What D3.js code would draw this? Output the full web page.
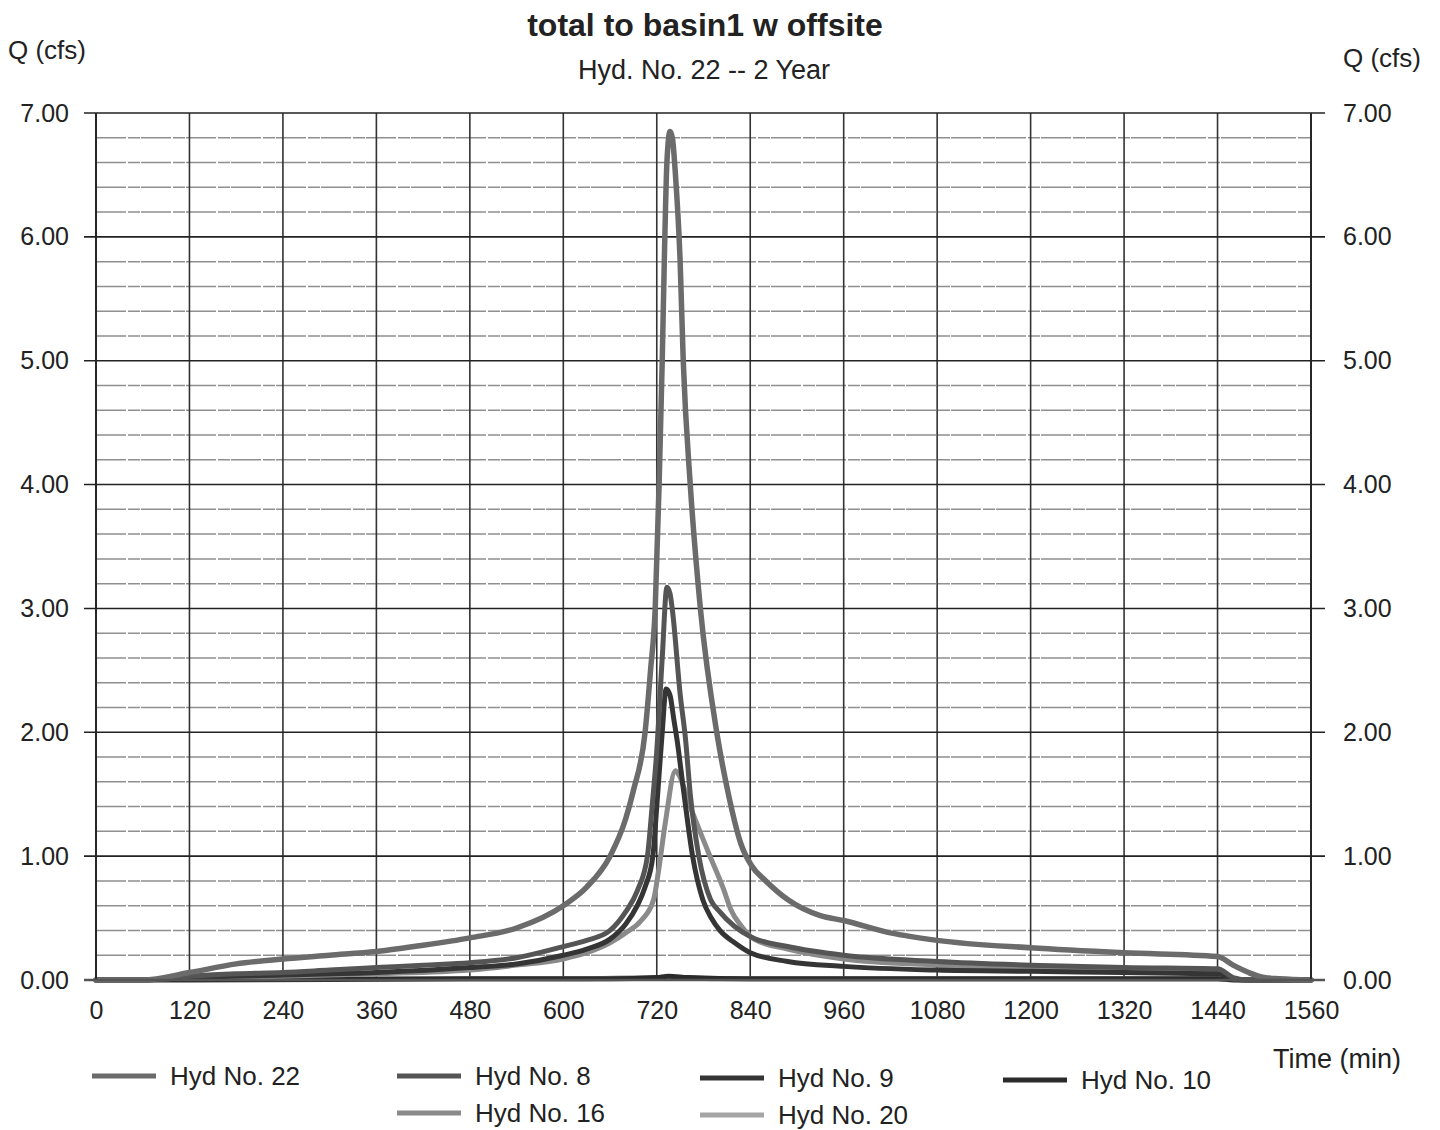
<!DOCTYPE html>
<html>
<head>
<meta charset="utf-8">
<script src="https://cdn.jsdelivr.net/npm/d3@7"></script>
<style>
  body { margin: 0; background: #fff; }
  svg text { font-family: "Liberation Sans", Arial, sans-serif; fill: #222; }
</style>
</head>
<body>
<svg id="chart" width="1440" height="1130"></svg>
<script>
// hydrograph readings (time in min, flow in cfs)
var hyd22Time = [0, 60, 120, 180, 240, 300, 360, 420, 480, 540, 600, 630, 660, 680, 690, 705, 712, 718, 723, 727, 730, 733, 737, 740, 744, 750, 754, 763, 776, 797, 812, 828, 842, 860, 888, 930, 960, 1020, 1080, 1200, 1320, 1440, 1460, 1480, 1500, 1520, 1560];
var hyd22Flow = [0, 0, 0.06, 0.13, 0.17, 0.2, 0.23, 0.28, 0.34, 0.42, 0.6, 0.75, 1.0, 1.3, 1.53, 2.0, 2.5, 3.0, 4.0, 5.0, 5.9, 6.6, 6.85, 6.8, 6.5, 5.8, 5.0, 4.0, 3.0, 2.0, 1.5, 1.1, 0.92, 0.8, 0.65, 0.52, 0.48, 0.38, 0.32, 0.26, 0.22, 0.19, 0.12, 0.06, 0.02, 0.01, 0];

var hyd8Time = [0, 60, 120, 180, 240, 300, 360, 420, 480, 540, 600, 630, 660, 680, 695, 708, 714, 720, 727, 733, 737, 740, 750, 757, 763, 774, 789, 801, 840, 888, 960, 1080, 1200, 1320, 1440, 1460, 1480, 1560];
var hyd8Flow = [0, 0, 0.03, 0.05, 0.06, 0.08, 0.1, 0.12, 0.14, 0.18, 0.27, 0.32, 0.4, 0.55, 0.72, 1.0, 1.4, 1.85, 2.6, 3.17, 3.12, 2.99, 2.31, 1.94, 1.5, 1.0, 0.65, 0.55, 0.35, 0.27, 0.2, 0.15, 0.12, 0.1, 0.09, 0.02, 0, 0];

var hyd9Time = [0, 60, 120, 240, 360, 480, 540, 600, 630, 660, 680, 695, 705, 715, 720, 727, 732, 737, 742, 746, 755, 766, 779, 790, 801, 820, 840, 888, 960, 1080, 1200, 1320, 1440, 1460, 1480, 1560];
var hyd9Flow = [0, 0, 0.02, 0.04, 0.06, 0.1, 0.13, 0.2, 0.25, 0.33, 0.45, 0.6, 0.75, 1.0, 1.4, 2.0, 2.35, 2.3, 2.1, 1.94, 1.5, 1.0, 0.65, 0.5, 0.4, 0.3, 0.22, 0.15, 0.11, 0.08, 0.07, 0.06, 0.05, 0.01, 0, 0];

var hyd10Time = [0, 120, 480, 660, 720, 735, 760, 840, 1440, 1460, 1560];
var hyd10Flow = [0, 0, 0.01, 0.01, 0.02, 0.03, 0.02, 0.01, 0.01, 0, 0];

var hyd16Time = [0, 60, 120, 240, 360, 480, 540, 600, 630, 660, 680, 700, 716, 722, 731, 744, 748, 763, 785, 806, 815, 828, 845, 888, 960, 1080, 1200, 1320, 1440, 1460, 1480, 1560];
var hyd16Flow = [0, 0, 0.02, 0.03, 0.05, 0.08, 0.12, 0.17, 0.22, 0.3, 0.38, 0.48, 0.65, 0.87, 1.27, 1.69, 1.66, 1.4, 1.05, 0.73, 0.57, 0.44, 0.33, 0.25, 0.17, 0.12, 0.09, 0.08, 0.07, 0.01, 0, 0];

var hyd20Time = [0, 240, 600, 720, 750, 800, 1440, 1470, 1560];
var hyd20Flow = [0, 0.01, 0.01, 0.02, 0.02, 0.01, 0.01, 0, 0];

var xTicks = [0, 120, 240, 360, 480, 600, 720, 840, 960, 1080, 1200, 1320, 1440, 1560];
var yTicks = [0, 1, 2, 3, 4, 5, 6, 7];
var legendNames = ["Hyd No. 22", "Hyd No. 8", "Hyd No. 9", "Hyd No. 10", "Hyd No. 16", "Hyd No. 20"];

var svg = d3.select("#chart");
var plotLeft = 96, plotRight = 1311, plotTop = 113, plotBottom = 980;

var x = d3.scaleLinear().domain([0, 1560]).range([plotLeft, plotRight]);
var y = d3.scaleLinear().domain([0, 7]).range([plotBottom, plotTop]);

// minor grid every 0.2
var minor = d3.range(0, 7.01, 0.2).filter(function(v){ return Math.abs(v - Math.round(v)) > 0.01; });
svg.append("g")
    .selectAll("line")
    .data(minor)
    .join("line")
        .attr("x1", plotLeft).attr("x2", plotRight)
        .attr("y1", function(d){ return y(d); })
        .attr("y2", function(d){ return y(d); })
        .style("stroke", "#8f8f8f")
        .style("stroke-width", 1.5)
        .style("stroke-dasharray", "30 2 12 1");

// vertical grid
svg.append("g")
    .selectAll("line")
    .data(xTicks)
    .join("line")
        .attr("x1", function(d){ return x(d); })
        .attr("x2", function(d){ return x(d); })
        .attr("y1", plotTop).attr("y2", plotBottom)
        .style("stroke", "#333")
        .style("stroke-width", 1.6);

// major horizontal lines, ticking out both sides
svg.append("g")
    .selectAll("line")
    .data(yTicks)
    .join("line")
        .attr("x1", plotLeft - 12).attr("x2", plotRight + 14)
        .attr("y1", function(d){ return y(d); })
        .attr("y2", function(d){ return y(d); })
        .style("stroke", "#222")
        .style("stroke-width", 1.6);

// axis labels with d3 axes, lines hidden
var leftAxis = svg.append("g")
    .attr("transform", "translate(" + (plotLeft - 24) + ",0)")
    .call(d3.axisLeft(y).tickValues(yTicks).tickFormat(d3.format(".2f")).tickSize(0));
var rightAxis = svg.append("g")
    .attr("transform", "translate(" + (plotRight + 29) + ",0)")
    .call(d3.axisRight(y).tickValues(yTicks).tickFormat(d3.format(".2f")).tickSize(0));
var bottomAxis = svg.append("g")
    .attr("transform", "translate(0," + (plotBottom + 18) + ")")
    .call(d3.axisBottom(x).tickValues(xTicks).tickFormat(d3.format("d")).tickSize(0));

[leftAxis, rightAxis, bottomAxis].forEach(function(a){
    a.select(".domain").remove();
    a.selectAll("text")
        .style("font-family", "Liberation Sans, Arial, sans-serif")
        .style("font-size", "25px")
        .style("fill", "#222");
});

// series
var series = [
    {name: "Hyd No. 20", t: hyd20Time, q: hyd20Flow, color: "#a5a5a5", w: 5},
    {name: "Hyd No. 10", t: hyd10Time, q: hyd10Flow, color: "#2b2b2b", w: 5},
    {name: "Hyd No. 16", t: hyd16Time, q: hyd16Flow, color: "#8a8a8a", w: 5},
    {name: "Hyd No. 9", t: hyd9Time, q: hyd9Flow, color: "#353535", w: 5},
    {name: "Hyd No. 8", t: hyd8Time, q: hyd8Flow, color: "#555555", w: 5},
    {name: "Hyd No. 22", t: hyd22Time, q: hyd22Flow, color: "#6b6b6b", w: 5.5}
];

var line = d3.line()
    .x(function(d){ return x(d[0]); })
    .y(function(d){ return y(d[1]); })
    .curve(d3.curveMonotoneX);

series.forEach(function(s){
    var pts = s.t.map(function(t, i){ return [t, s.q[i]]; });
    svg.append("path")
        .attr("d", line(pts))
        .style("fill", "none")
        .style("stroke", s.color)
        .style("stroke-width", s.w)
        .style("stroke-linejoin", "round")
        .style("stroke-linecap", "round");
});

// frame on top of curves
svg.append("line").attr("x1", plotLeft).attr("x2", plotLeft).attr("y1", plotTop).attr("y2", plotBottom)
    .style("stroke", "#222").style("stroke-width", 1.8);
svg.append("line").attr("x1", plotRight).attr("x2", plotRight).attr("y1", plotTop).attr("y2", plotBottom)
    .style("stroke", "#222").style("stroke-width", 1.8);
svg.append("line").attr("x1", plotLeft - 12).attr("x2", plotRight + 14).attr("y1", plotBottom).attr("y2", plotBottom)
    .style("stroke", "#555").style("stroke-width", 2.5);

// titles
svg.append("text").attr("x", 705).attr("y", 36).attr("text-anchor", "middle")
    .style("font-size", "32px").style("font-weight", "bold").text("total to basin1 w offsite");
svg.append("text").attr("x", 704).attr("y", 79).attr("text-anchor", "middle")
    .style("font-size", "27px").text("Hyd. No. 22 -- 2 Year");
svg.append("text").attr("x", 8).attr("y", 59).style("font-size", "26px").text("Q (cfs)");
svg.append("text").attr("x", 1343).attr("y", 67).style("font-size", "26px").text("Q (cfs)");
svg.append("text").attr("x", 1273).attr("y", 1068).style("font-size", "27px").text("Time (min)");

// legend
var legendPos = [[92, 1076], [397, 1076], [700, 1078], [1003, 1080], [397, 1113], [700, 1115]];
var legendColor = ["#6b6b6b", "#555555", "#353535", "#2b2b2b", "#8a8a8a", "#a5a5a5"];
legendNames.forEach(function(name, i){
    var p = legendPos[i];
    svg.append("line")
        .attr("x1", p[0]).attr("x2", p[0] + 64)
        .attr("y1", p[1]).attr("y2", p[1])
        .style("stroke", legendColor[i])
        .style("stroke-width", 5);
    svg.append("text")
        .attr("x", p[0] + 78).attr("y", p[1] + 9)
        .style("font-size", "26px")
        .text(name);
});
</script>
</body>
</html>
